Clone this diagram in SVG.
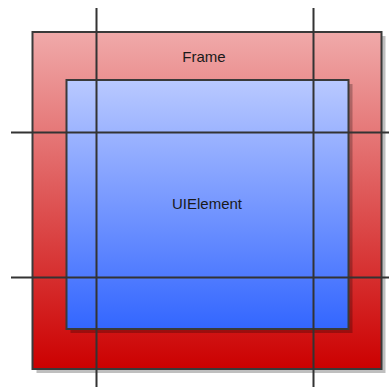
<svg xmlns="http://www.w3.org/2000/svg" width="389" height="387" viewBox="0 0 389 387">
<defs>
<linearGradient id="gFrame" x1="0" y1="0" x2="0" y2="1">
<stop offset="0" stop-color="#f0aaaa"/>
<stop offset="1" stop-color="#cc0000"/>
</linearGradient>
<linearGradient id="gUi" x1="0" y1="0" x2="0" y2="1">
<stop offset="0" stop-color="#b9c9ff"/>
<stop offset="1" stop-color="#3366ff"/>
</linearGradient>
<style>
.box{stroke:#3a3a3a;stroke-width:2}
.shadow{fill:#000;opacity:0.25}
.lbl{font-family:"Liberation Sans",Arial,sans-serif;font-size:15px;fill:#1a1a1a;text-anchor:middle}
.guide{stroke:#333;stroke-width:2;fill:none}
</style>
</defs>
<g id="frame">
<rect class="shadow" x="36.5" y="36" width="349" height="337"/>
<rect class="box" x="32.5" y="32" width="349" height="337" fill="url(#gFrame)"/>
<text class="lbl" x="204" y="62">Frame</text>
</g>
<g id="uielement">
<rect class="shadow" x="70.5" y="84" width="282" height="249"/>
<rect class="box" x="66.5" y="80" width="282" height="249" fill="url(#gUi)"/>
<text class="lbl" x="207" y="209">UIElement</text>
</g>
<g id="connectors">
<line class="guide" x1="96.5" y1="8" x2="96.5" y2="387"/>
<line class="guide" x1="313.5" y1="8" x2="313.5" y2="387"/>
<line class="guide" x1="11" y1="132.5" x2="389" y2="132.5"/>
<line class="guide" x1="11" y1="277.5" x2="389" y2="277.5"/>
</g>
</svg>
